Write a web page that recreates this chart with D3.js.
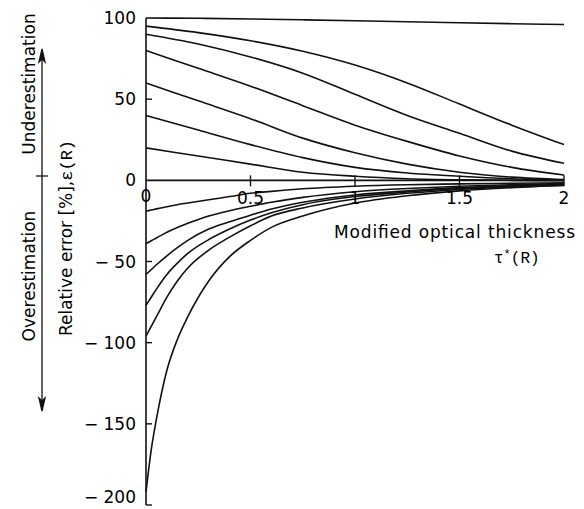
<!DOCTYPE html>
<html lang="en">
<head>
  <meta charset="UTF-8">
  <title>Relative error vs modified optical thickness</title>
  <style>
    body { margin: 0; background: #ffffff; }
    svg text { font-family: "DejaVu Sans", sans-serif; fill: #000; }
    .mono { font-family: "Liberation Mono", "DejaVu Sans Mono", monospace; }
    .curve { fill: none; stroke: #111; stroke-width: 1.6; }
  </style>
</head>
<body>
<div id="chart"></div>

<script src="https://d3js.org/d3.v7.min.js"></script>
<script>
  // x positions (modified optical thickness)
  const posX = [0, 0.25, 0.5, 0.75, 1, 1.25, 1.5, 1.75, 2];
  const negX = [0, 0.025, 0.05, 0.1, 0.15, 0.2, 0.3, 0.4, 0.5, 0.6, 0.75, 1, 1.25, 1.5, 1.75, 2];

  // curves starting above zero (underestimation)
  const under100 = [100, 99.8, 99.4, 98.9, 98.3, 97.7, 97.1, 96.5, 96];
  const under95 = [95, 91, 86, 79.5, 71, 60, 47, 34, 22];
  const under90 = [90, 84, 76, 66, 53, 40, 29, 18, 10.5];
  const under80 = [80, 69, 58, 46, 34, 24, 15, 8, 3.3];
  const under60 = [60, 49, 38, 26, 17, 10, 5, 2, 0.5];
  const under40 = [40, 31, 22, 14, 8, 4.5, 2.5, 1, 0.2];
  const under20 = [20, 15, 10, 5, 2.5, 1, 0.3, 0, -0.3];

  // curves starting below zero (overestimation)
  const over20 = [-19, -18.3, -17.6, -16.3, -15, -14, -12, -10, -8, -6.8, -5.2, -3.6, -2.7, -2.2, -1.8, -1.5];
  const over40 = [-39, -37.2, -35.5, -32, -29, -26.5, -22, -18.7, -16, -13.5, -10.5, -7, -5, -3.6, -2.7, -2];
  const over60 = [-58, -55, -52, -46.5, -41.5, -37, -30, -25.5, -21.5, -17.7, -13.5, -9, -6.5, -4.5, -3.3, -2.5];
  const over80 = [-77, -72, -67, -58, -51, -45, -36.5, -30, -24.5, -20, -15, -10, -7.2, -5, -3.6, -2.7];
  const over100 = [-96, -90, -84, -72, -62, -54, -43, -35, -28, -22, -17, -11.5, -8, -5.6, -4, -3];
  const over200 = [-192, -166, -147, -117, -98, -84, -62, -47, -37, -29, -22, -14, -9.5, -6.5, -4.5, -3.2];

  const xTicks = [0.5, 1, 1.5, 2];
  const xTickLabels = ['0.5', '1', '1.5', '2'];
  const yTicks = [100, 50, 0, -50, -100, -150, -200];

  const width = 584;
  const height = 509;

  const svg = d3.select('#chart')
    .append('svg')
    .attr('width', width)
    .attr('height', height);

  // scales
  const x = d3.scaleLinear().domain([0, 2]).range([146, 564]);
  const y = d3.scaleLinear().domain([-200, 100]).range([505, 18]);

  const line = d3.line()
    .x(d => x(d[0]))
    .y(d => y(d[1]))
    .curve(d3.curveMonotoneX);

  const series = [
    [posX, under100], [posX, under95], [posX, under90], [posX, under80],
    [posX, under60], [posX, under40], [posX, under20],
    [negX, over20], [negX, over40], [negX, over60], [negX, over80],
    [negX, over100], [negX, over200]
  ];

  svg.selectAll('.curve')
    .data(series)
    .enter().append('path')
    .attr('class', 'curve')
    .attr('d', s => line(s[0].map((v, i) => [v, s[1][i]])));

  // y axis (ticks point inwards)
  const yAxis = svg.append('g').attr('transform', `translate(${x(0)},0)`);
  yAxis.append('line')
    .attr('y1', y(100)).attr('y2', y(-200))
    .attr('stroke', '#111').attr('stroke-width', 1.6);
  yAxis.selectAll('.ytick')
    .data(yTicks.filter(d => d !== 0 && d !== 100))
    .enter().append('line')
    .attr('x1', 0).attr('x2', 6)
    .attr('y1', d => y(d)).attr('y2', d => y(d))
    .attr('stroke', '#111').attr('stroke-width', 1.4);
  yAxis.selectAll('.ylabel')
    .data(yTicks)
    .enter().append('text')
    .attr('x', -10)
    .attr('y', d => Math.min(y(d) + 6, 503))
    .attr('text-anchor', 'end')
    .attr('font-size', 17)
    .text(d => d3.format('d')(d).replace('−', '− '));

  // x axis along zero
  const xAxis = svg.append('g');
  xAxis.append('line')
    .attr('x1', x(0)).attr('x2', x(2))
    .attr('y1', y(0)).attr('y2', y(0))
    .attr('stroke', '#111').attr('stroke-width', 1.6);
  xAxis.selectAll('.xtick')
    .data(xTicks)
    .enter().append('line')
    .attr('x1', d => x(d)).attr('x2', d => x(d))
    .attr('y1', y(0) - 5).attr('y2', y(0) + 6)
    .attr('stroke', '#111').attr('stroke-width', 1.4);
  xAxis.selectAll('.xlabel')
    .data(xTicks)
    .enter().append('text')
    .attr('x', d => x(d))
    .attr('y', y(0) + 24)
    .attr('text-anchor', 'middle')
    .attr('font-size', 17)
    .text((d, i) => xTickLabels[i]);
  xAxis.append('text')
    .attr('x', x(0))
    .attr('y', y(0) + 22)
    .attr('text-anchor', 'middle')
    .attr('font-size', 17)
    .text('0');

  // x axis title
  svg.append('text')
    .attr('x', 334).attr('y', 238)
    .attr('font-size', 17)
    .attr('textLength', 241)
    .text('Modified optical thickness');
  const tau = svg.append('text')
    .attr('class', 'mono')
    .attr('x', 494).attr('y', 263)
    .attr('font-size', 16);
  tau.append('tspan').text('τ');
  tau.append('tspan').attr('dy', -5).attr('font-size', 12).text('*');
  tau.append('tspan').attr('dy', 5).text('(R)');

  // y axis title
  const yTitle = svg.append('text')
    .attr('transform', 'translate(72,238) rotate(-90)')
    .attr('text-anchor', 'middle')
    .attr('font-size', 17);
  yTitle.append('tspan').text('Relative error [%],');
  yTitle.append('tspan').attr('class', 'mono').text('ε(R)');

  // under / over estimation labels with the double arrow
  svg.append('text')
    .attr('transform', 'translate(35,84) rotate(-90)')
    .attr('text-anchor', 'middle')
    .attr('font-size', 17)
    .text('Underestimation');
  svg.append('text')
    .attr('transform', 'translate(35,276) rotate(-90)')
    .attr('text-anchor', 'middle')
    .attr('font-size', 17)
    .text('Overestimation');

  const arrow = svg.append('g').attr('stroke', '#111').attr('stroke-width', 1.3).attr('fill', '#111');
  arrow.append('line').attr('x1', 42).attr('x2', 42).attr('y1', 52).attr('y2', 408);
  arrow.append('line').attr('x1', 36).attr('x2', 48).attr('y1', 176).attr('y2', 176);
  arrow.append('path').attr('d', 'M42,49 L39,62 L42,59 L45,62 Z');
  arrow.append('path').attr('d', 'M42,411 L39,398 L42,401 L45,398 Z');
</script>
</body>
</html>
